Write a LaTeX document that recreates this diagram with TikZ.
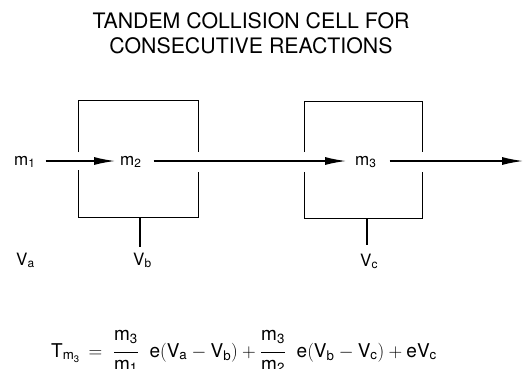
\RequirePackage{fix-cm}
\documentclass[tikz,border=0pt]{standalone}
\usepackage{fontspec}
\setmainfont{TeX Gyre Heros}
\usetikzlibrary{arrows.meta,calc}
\tikzset{
  cell/.style={minimum width=119pt, minimum height=116pt, inner sep=0pt, draw=none},
  lab/.style={inner sep=0pt, font=\fontsize{17}{20}\selectfont},
  mlab/.style={lab, anchor=west, text height=8pt, text depth=0pt},
  vlab/.style={lab, anchor=base west},
  ttl/.style={inner sep=0pt, anchor=base, font=\fontsize{21.3}{25}\selectfont},
  eqn/.style={inner sep=0pt, anchor=base west, font=\fontsize{19}{22}\selectfont},
  arr/.style={line width=1.3pt, -{Latex[length=21pt,width=8pt]}},
  wall/.style={line width=1.1pt},
}
\newcommand{\rmm}[1]{\mathrm{#1}}
\newcommand{\numstrut}{\rule[-10pt]{0pt}{10pt}}
\begin{document}
\begin{tikzpicture}[x=1pt,y=-1pt]
\useasboundingbox (0,0) rectangle (524,368);
% title
\node[ttl] (t1) at (251,28) {TANDEM COLLISION CELL FOR};
\node[ttl] (t2) at (251,53) {CONSECUTIVE REACTIONS};
% cells
\node[cell] (c1) at (138.5,159) {};
\node[cell, minimum width=117pt] (c2) at (363.5,160) {};
\draw[wall] ($(c1.west)+(0,-7)$) |- (c1.north east) -- ($(c1.east)+(0,-7)$);
\draw[wall] ($(c1.west)+(0,11)$) |- (c1.south east) -- ($(c1.east)+(0,13)$);
\draw[wall] ($(c2.west)+(0,-8)$) |- (c2.north east) -- ($(c2.east)+(0,-8)$);
\draw[wall] ($(c2.west)+(0,12)$) |- (c2.south east) -- ($(c2.east)+(0,12)$);
% labels
\node[mlab] (m1) at (14,161) {$\rmm{m}_{\rmm{1}}$};
\node[mlab] (m2) at (120,161) {$\rmm{m}_{\rmm{2}}$};
\node[mlab] (m3) at (355,161) {$\rmm{m}_{\rmm{3}}$};
\coordinate (out) at (523,161);
\draw[arr] ([xshift=10pt]m1.east) -- ([xshift=-5pt]m2.west);
\draw[arr] ([xshift=12pt]m2.east) -- ([xshift=-9pt]m3.west);
\draw[arr] ([xshift=13pt]m3.east) -- (out);
% voltages
\node[vlab] (va) at (16,265) {$\rmm{V}_{\rmm{a}}$};
\node[vlab] (vb) at (133,265) {$\rmm{V}_{\rmm{b}}$};
\node[vlab] (vc) at (360,266) {$\rmm{V}_{\rmm{c}}$};
\coordinate (sb) at (140,247);
\coordinate (sc) at (367,245);
\draw[wall] (c1.south -| sb) -- (sb);
\draw[wall] (c2.south -| sc) -- (sc);
% equation
\node[eqn] (eq) at (51,357) {$\rmm{T}_{\rmm{m}_\rmm{3}} \,=\; \displaystyle\frac{\rmm{m}_\rmm{3}\numstrut}{\rmm{m}_\rmm{1}}\;\;\rmm{e}(\rmm{V}_\rmm{a} - \rmm{V}_\rmm{b}) + \frac{\rmm{m}_\rmm{3}\numstrut}{\rmm{m}_\rmm{2}}\;\;\rmm{e}(\rmm{V}_\rmm{b} - \rmm{V}_\rmm{c}) + \rmm{eV}_\rmm{c}$};
\end{tikzpicture}
\end{document}
